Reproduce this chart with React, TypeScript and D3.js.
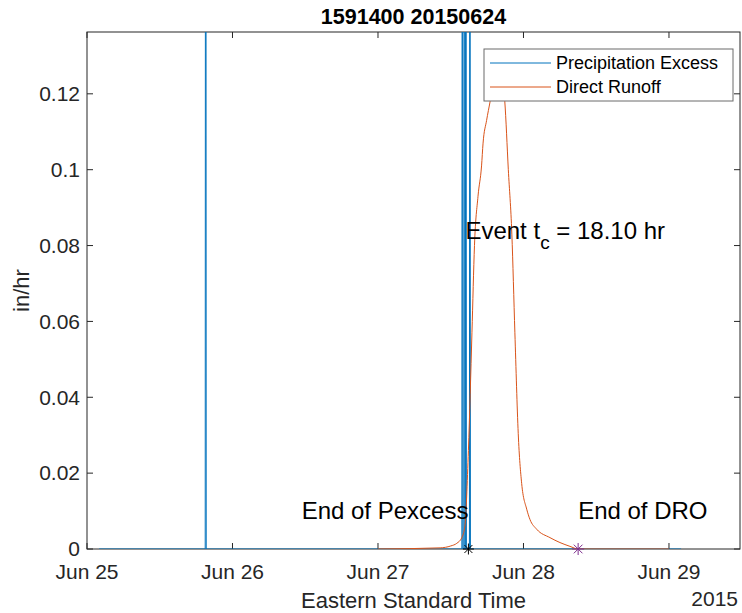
import React from "react";
import * as d3 from "d3";

const titleText = "1591400 20150624";
const yLabelText = "in/hr";
const xLabelText = "Eastern Standard Time";
const yearText = "2015";
const seriesNames = ["Precipitation Excess", "Direct Runoff"];

const xDomain = ["2015-06-25T00:00", "2015-06-29T11:43"];
const yDomain = [0, 0.1363];
const xTickDates = ["2015-06-25T00:00", "2015-06-26T00:00", "2015-06-27T00:00", "2015-06-28T00:00", "2015-06-29T00:00"];
const yTickValues = [0, 0.02, 0.04, 0.06, 0.08, 0.1, 0.12];

const precipTimes = [
  "2015-06-25T02:00", "2015-06-25T19:30", "2015-06-25T19:35", "2015-06-25T19:40",
  "2015-06-27T13:50", "2015-06-27T13:55", "2015-06-27T14:00",
  "2015-06-27T14:10", "2015-06-27T14:15", "2015-06-27T14:20",
  "2015-06-27T14:25", "2015-06-27T14:30", "2015-06-27T14:35",
  "2015-06-27T15:05", "2015-06-27T15:10", "2015-06-27T15:15",
  "2015-06-29T02:00",
];
const precipValues = [
  0, 0, 0.42, 0,
  0, 0.31, 0,
  0, 0.55, 0,
  0, 0.38, 0,
  0, 0.27, 0,
  0,
];

const runoffTimes = [
  "2015-06-27T00:00", "2015-06-27T10:15", "2015-06-27T12:00", "2015-06-27T13:00",
  "2015-06-27T13:50", "2015-06-27T14:20", "2015-06-27T14:55", "2015-06-27T15:30",
  "2015-06-27T15:55", "2015-06-27T16:30", "2015-06-27T17:05", "2015-06-27T17:20",
  "2015-06-27T17:55", "2015-06-27T18:30", "2015-06-27T19:20", "2015-06-27T20:05",
  "2015-06-27T20:55", "2015-06-27T21:30", "2015-06-27T22:05", "2015-06-27T22:35",
  "2015-06-27T23:08", "2015-06-27T23:42", "2015-06-28T00:32", "2015-06-28T01:04",
  "2015-06-28T02:11", "2015-06-28T04:22", "2015-06-28T06:01", "2015-06-28T07:40",
  "2015-06-28T09:01", "2015-06-29T00:00",
];
const runoffValues = [
  0, 0.0003, 0.0008, 0.0015,
  0.003, 0.006, 0.026, 0.057,
  0.08, 0.093, 0.101, 0.107,
  0.113, 0.118, 0.125, 0.127,
  0.118, 0.1, 0.083, 0.057,
  0.0305, 0.0173, 0.0105, 0.0078,
  0.0052, 0.003, 0.0017, 0.0007,
  0, 0,
];

const pexcessEnd = "2015-06-27T14:55";
const droEnd = "2015-06-28T09:01";
const tcHours = 18.1;
const labelY = 0.01;
const tcLabelY = 0.084;

const W = 742, H = 613;
const L = 87, R = 740, T = 32, B = 549;
const FONT = "'Liberation Sans', Arial, Helvetica, sans-serif";
const AX = "#262626";
const BLUE = "#0072BD";
const ORANGE = "#D95319";
const PURPLE = "#7E2F8E";

const parse = d3.timeParse("%Y-%m-%dT%H:%M");

function Star({ cx, cy, color, r = 5 }: { cx: number; cy: number; color: string; r?: number }) {
  const d = r * 0.72;
  return (
    <g stroke={color} strokeWidth={1}>
      <line x1={cx - r} y1={cy} x2={cx + r} y2={cy} />
      <line x1={cx} y1={cy - r} x2={cx} y2={cy + r} />
      <line x1={cx - d} y1={cy - d} x2={cx + d} y2={cy + d} />
      <line x1={cx - d} y1={cy + d} x2={cx + d} y2={cy - d} />
    </g>
  );
}

export default function App() {
  const x = d3.scaleTime().domain(xDomain.map((s) => parse(s) as Date)).range([L, R]);
  const y = d3.scaleLinear().domain(yDomain).range([B, T]);
  const fmtX = d3.timeFormat("%b %d");
  const fmtY = d3.format("~g");

  const precip = precipTimes.map((t, i) => ({ t: parse(t) as Date, v: precipValues[i] }));
  const runoff = runoffTimes.map((t, i) => ({ t: parse(t) as Date, v: runoffValues[i] }));

  const lineGen = d3.line<{ t: Date; v: number }>().x((d) => x(d.t)).y((d) => y(d.v));
  const smoothGen = d3
    .line<{ t: Date; v: number }>()
    .x((d) => x(d.t))
    .y((d) => y(d.v))
    .curve(d3.curveMonotoneX);

  const px = x(parse(pexcessEnd) as Date);
  const dx = x(parse(droEnd) as Date);
  const tick = 6;

  return (
    <svg width={W} height={H} style={{ position: "absolute", left: 0, top: 0, background: "#fff" }} fontFamily={FONT}>
      <defs>
        <clipPath id="plot">
          <rect x={L} y={T} width={R - L} height={B - T} />
        </clipPath>
      </defs>
      <rect x={0} y={0} width={W} height={H} fill="#fff" />

      {xTickDates.map((s) => {
        const xx = x(parse(s) as Date);
        return (
          <g key={s}>
            <line x1={xx} x2={xx} y1={B} y2={B - tick} stroke={AX} strokeWidth={1} />
            <line x1={xx} x2={xx} y1={T} y2={T + tick} stroke={AX} strokeWidth={1} />
            <text x={xx} y={579} textAnchor="middle" fontSize={21} fill={AX}>
              {fmtX(parse(s) as Date)}
            </text>
          </g>
        );
      })}
      {yTickValues.map((v) => {
        const yy = y(v);
        return (
          <g key={v}>
            <line x1={L} x2={L + tick} y1={yy} y2={yy} stroke={AX} strokeWidth={1} />
            <line x1={R} x2={R - tick} y1={yy} y2={yy} stroke={AX} strokeWidth={1} />
            <text x={80} y={yy} dy="0.35em" textAnchor="end" fontSize={21} fill={AX}>
              {fmtY(v)}
            </text>
          </g>
        );
      })}

      <rect x={L} y={T} width={R - L} height={B - T} fill="none" stroke={AX} strokeWidth={1} />

      <g clipPath="url(#plot)" fill="none">
        <path d={lineGen(precip) || ""} stroke={BLUE} strokeWidth={1} />
        <path d={smoothGen(runoff) || ""} stroke={ORANGE} strokeWidth={1} />
      </g>

      <Star cx={px} cy={B} color="#000" r={5.5} />
      <Star cx={dx} cy={B} color={PURPLE} r={6} />

      <text x={px} y={y(labelY)} dy="0.35em" textAnchor="end" fontSize={24} fill="#000">
        End of Pexcess
      </text>
      <text x={dx} y={y(labelY)} dy="0.35em" textAnchor="start" fontSize={24} fill="#000">
        End of DRO
      </text>
      <text x={px - 3} y={y(tcLabelY)} dy="0.35em" textAnchor="start" fontSize={24} fill="#000">
        Event t
        <tspan fontSize={19} dy="10">c</tspan>
        <tspan dy="-10">{` = ${tcHours.toFixed(2)} hr`}</tspan>
      </text>

      <rect x={484} y={49} width={249} height={52} fill="#fff" stroke="#6a6a6a" strokeWidth={1} />
      <line x1={490} x2={551} y1={63} y2={63} stroke={BLUE} strokeWidth={1} />
      <line x1={490} x2={551} y1={87} y2={87} stroke={ORANGE} strokeWidth={1} />
      <text x={556} y={63} dy="0.35em" fontSize={18} fill="#000">{seriesNames[0]}</text>
      <text x={556} y={87} dy="0.35em" fontSize={18} fill="#000">{seriesNames[1]}</text>

      <text x={(L + R) / 2} y={24} textAnchor="middle" fontSize={21.5} fontWeight="bold" fill="#000">
        {titleText}
      </text>
      <text x={(L + R) / 2} y={608} textAnchor="middle" fontSize={22} fill={AX}>
        {xLabelText}
      </text>
      <text x={738} y={606} textAnchor="end" fontSize={21} fill={AX}>
        {yearText}
      </text>
      <text transform={`translate(29, ${(T + B) / 2}) rotate(-90)`} textAnchor="middle" fontSize={22} fill={AX}>
        {yLabelText}
      </text>
    </svg>
  );
}
